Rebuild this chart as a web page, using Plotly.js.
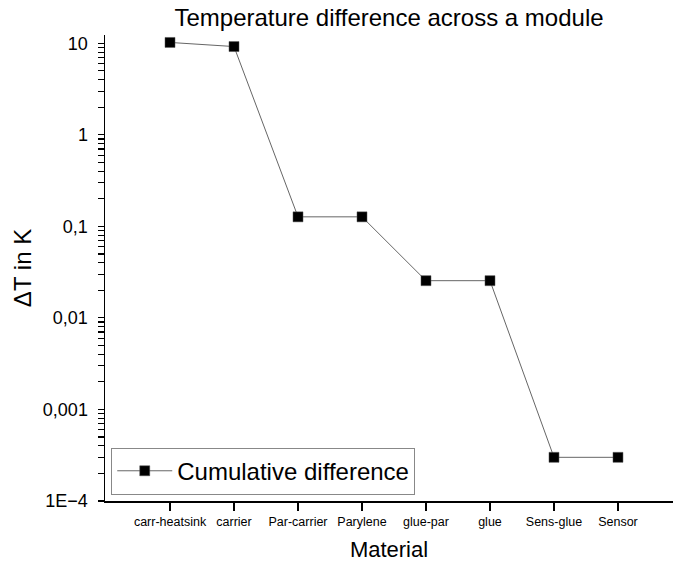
<!DOCTYPE html>
<html>
<head>
<meta charset="utf-8">
<script src="https://cdn.plot.ly/plotly-3.0.1.min.js"></script>
<style>html,body{margin:0;padding:0;background:#fff;}#chart{width:673px;height:562px;}</style>
</head>
<body>
<div id="chart"></div>
<script>
const materials = ["carr-heatsink", "carrier", "Par-carrier", "Parylene", "glue-par", "glue", "Sens-glue", "Sensor"];
const cumulativeDifference = [10.2, 9.2, 0.127, 0.127, 0.0255, 0.0255, 0.0003, 0.0003];
const yTickVals = [10, 1, 0.1, 0.01, 0.001, 0.0001];
const yTickText = ["10", "1", "0,1", "0,01", "0,001", "1E\u22124"];

// minor tick positions of the log axis (2..9 within each decade)
const minorTickVals = [];
for (let e = -4; e <= 1; e++) {
  for (let m = 2; m <= 9; m++) minorTickVals.push(Number((m * Math.pow(10, e)).toPrecision(3)));
}
const allTickVals = yTickVals.concat(minorTickVals);
const allTickText = yTickText.concat(minorTickVals.map(function () { return ""; }));

const FONT = "Arial, 'Liberation Sans', sans-serif";
const Y_RANGE = [-4, 1.09];

const trace = {
  x: materials,
  y: cumulativeDifference,
  type: "scatter",
  mode: "lines+markers",
  name: "Cumulative difference",
  line: {color: "#666666", width: 1},
  marker: {symbol: "square", size: 10, color: "#000000", line: {color: "#555555", width: 0.5}}
};

const layout = {
  width: 673,
  height: 562,
  margin: {l: 105, r: 0, t: 35, b: 61},
  paper_bgcolor: "#ffffff",
  plot_bgcolor: "#ffffff",
  font: {family: FONT, color: "#000000"},
  title: {
    text: "Temperature difference across a module",
    font: {family: FONT, size: 24, color: "#000000"},
    x: 0.5, xref: "paper", xanchor: "center",
    y: 21, yref: "container", yanchor: "middle"
  },
  xaxis: {
    type: "category",
    range: [-1.016, 7.86],
    showline: true, linecolor: "#000000", linewidth: 1.5,
    ticks: "outside", ticklen: 8, tickwidth: 1.5, tickcolor: "#000000",
    showgrid: false, zeroline: false,
    tickfont: {family: FONT, size: 12.5, color: "#000000"},
    title: {text: "Material", font: {family: FONT, size: 22, color: "#000000"}, standoff: 14}
  },
  yaxis: {
    type: "log",
    range: Y_RANGE,
    showline: true, linecolor: "#000000", linewidth: 1.5,
    ticks: "outside", ticklen: 6, tickwidth: 1.2, tickcolor: "#000000",
    tickmode: "array", tickvals: allTickVals, ticktext: allTickText,
    tickfont: {family: FONT, size: 18, color: "#000000"},
    ticklabelstandoff: 6,
    showgrid: false, zeroline: false,
    title: {text: "\u0394T in K", font: {family: FONT, size: 24, color: "#000000"}, standoff: 4}
  },
  showlegend: true,
  legend: {
    x: 0.011, y: 0.064, xanchor: "left", yanchor: "middle",
    xref: "paper", yref: "paper",
    bgcolor: "#ffffff", bordercolor: "#888888", borderwidth: 1,
    font: {family: FONT, size: 24, color: "#000000"},
    itemwidth: 55
  }
};

Plotly.newPlot("chart", [trace], layout, {staticPlot: true, displayModeBar: false});
</script>
</body>
</html>
